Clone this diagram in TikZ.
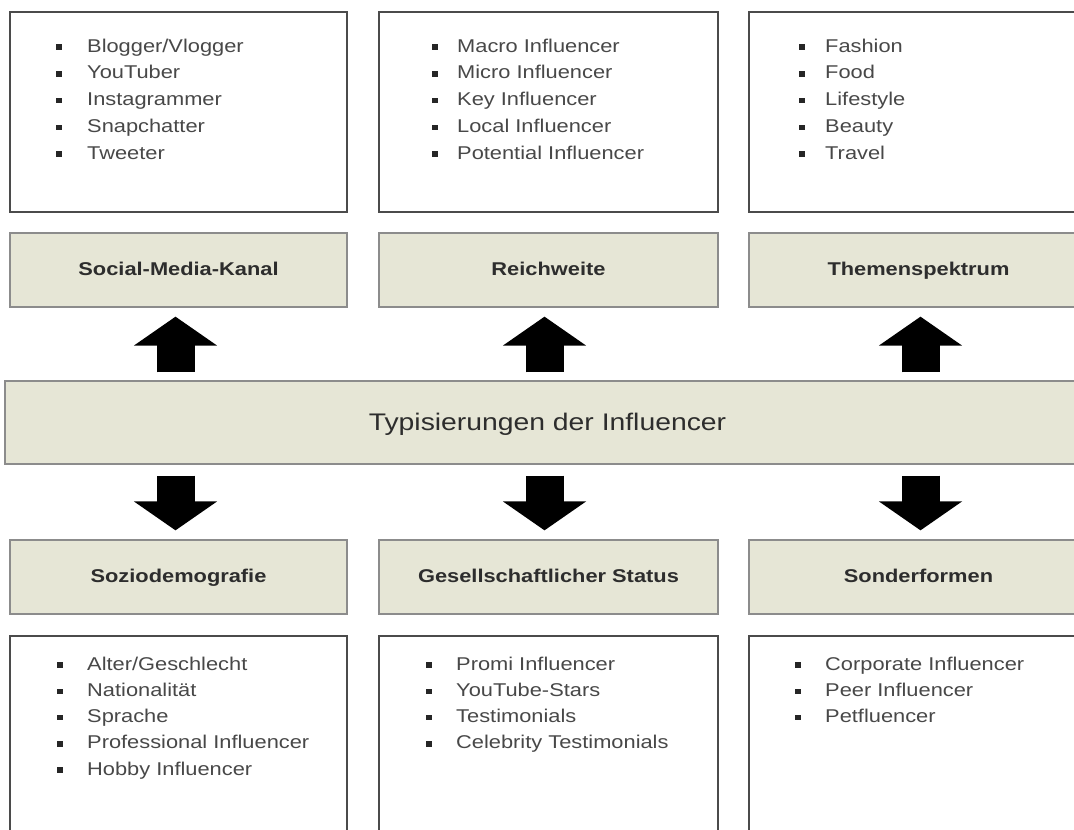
\documentclass[tikz,border=0pt]{standalone}
\usepackage{fontspec}
\setmainfont{Liberation Sans}[FakeStretch=1.18]
\usetikzlibrary{arrows.meta}
\definecolor{beige}{RGB}{230,230,214}
\definecolor{lbord}{RGB}{140,140,140}
\definecolor{bbord}{RGB}{75,75,75}
\definecolor{itemc}{RGB}{72,72,72}
\definecolor{labc}{RGB}{45,45,45}
\newcommand\drawitems[6]{%
  \foreach \t [count=\i from 0] in {#6} {
    \node[itemtext] (#1-\i) at (#3,{#4+#5*\i}) {\t};
    \node[bulletsq] (#1b-\i) at (#2,{#4+#5*\i-5}) {};
  }}
\begin{document}
\begin{tikzpicture}[x=1pt,y=-1pt,
  listbox/.style={draw=bbord,line width=2pt,fill=white,minimum width=337pt,minimum height=200pt,inner sep=0pt},
  labbox/.style={draw=lbord,line width=1.3pt,fill=beige,minimum width=337pt,minimum height=74pt,inner sep=0pt,
    text=labc,font=\bfseries\fontsize{18.5}{20}\selectfont,text height=13.5pt,text depth=3.5pt},
  itemtext/.style={anchor=base west,inner sep=0pt,text=itemc,font=\fontsize{18.5}{20}\selectfont},
  bulletsq/.style={rectangle,fill=black!85,minimum size=5.5pt,inner sep=0pt},
  blk/.style={draw=black,line width=38pt,-{Triangle[width=82pt,length=29pt]}}
]
\useasboundingbox (0,0) rectangle (1074,830);

% top lists
\node[listbox] (tl) at (178.5,112) {};
\node[listbox,minimum width=339pt] (tm) at (548.5,112) {};
\node[listbox,minimum width=339pt] (tr) at (918.5,112) {};
% top labels
\node[labbox] (ltl) at (178.5,270) {Social-Media-Kanal};
\node[labbox,minimum width=339pt] (ltm) at (548.5,270) {Reichweite};
\node[labbox,minimum width=339pt] (ltr) at (918.5,270) {Themenspektrum};
% central bar
\node[draw=lbord,line width=1.3pt,fill=beige,minimum width=1090pt,minimum height=83pt,inner sep=0pt] (bar) at (550,422.5) {};
\node[inner sep=0pt,text=labc,font=\fontsize{24}{26}\selectfont] (title) at (547.5,424) {Typisierungen der Influencer};
% bottom labels
\node[labbox] (lbl) at (178.5,577) {Soziodemografie};
\node[labbox,minimum width=339pt] (lbm) at (548.5,577) {Gesellschaftlicher Status};
\node[labbox,minimum width=339pt] (lbr) at (918.5,577) {Sonderformen};
% bottom lists
\node[listbox,minimum height=230pt] (bl) at (178.5,751) {};
\node[listbox,minimum width=339pt,minimum height=230pt] (bm) at (548.5,751) {};
\node[listbox,minimum width=339pt,minimum height=230pt] (br) at (918.5,751) {};

% arrows
\draw[blk,shorten <=8pt,shorten >=9pt] ([xshift=-3pt]ltl.south |- bar.north) -- ([xshift=-3pt]ltl.south);
\draw[blk,shorten <=8pt,shorten >=9pt] ([xshift=-4pt]ltm.south |- bar.north) -- ([xshift=-4pt]ltm.south);
\draw[blk,shorten <=8pt,shorten >=9pt] ([xshift=2pt]ltr.south |- bar.north) -- ([xshift=2pt]ltr.south);
\draw[blk,shorten <=11pt,shorten >=9pt] ([xshift=-3pt]lbl.north |- bar.south) -- ([xshift=-3pt]lbl.north);
\draw[blk,shorten <=11pt,shorten >=9pt] ([xshift=-4pt]lbm.north |- bar.south) -- ([xshift=-4pt]lbm.north);
\draw[blk,shorten <=11pt,shorten >=9pt] ([xshift=2pt]lbr.north |- bar.south) -- ([xshift=2pt]lbr.north);

% items
\drawitems{i1}{59}{87}{52}{26.8}{Blogger/Vlogger,YouTuber,Instagrammer,Snapchatter,Tweeter}
\drawitems{i2}{435}{457}{52}{26.8}{Macro Influencer,Micro Influencer,Key Influencer,Local Influencer,Potential Influencer}
\drawitems{i3}{802}{825}{52}{26.8}{Fashion,Food,Lifestyle,Beauty,Travel}
\drawitems{i4}{60}{87}{670}{26.3}{Alter/Geschlecht,Nationalität,Sprache,Professional Influencer,Hobby Influencer}
\drawitems{i5}{429}{456}{670}{26.3}{Promi Influencer,YouTube-Stars,Testimonials,Celebrity Testimonials}
\drawitems{i6}{798}{825}{670}{26.3}{Corporate Influencer,Peer Influencer,Petfluencer}
\end{tikzpicture}
\end{document}
